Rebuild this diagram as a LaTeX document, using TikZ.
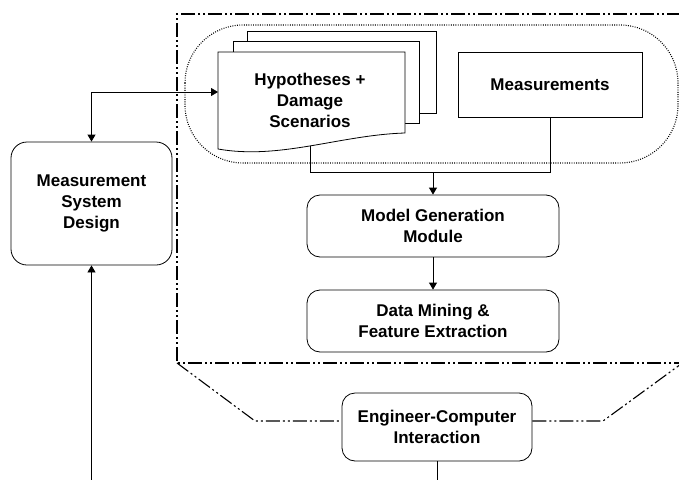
\documentclass[tikz,border=0pt]{standalone}
\usepackage{fontspec}
\setmainfont{Liberation Sans}
\usetikzlibrary{arrows.meta}
\tikzset{
  lbl/.style={font=\fontsize{17}{21}\selectfont\bfseries, align=center},
  rbox/.style={draw, line width=0.8pt, rounded corners=13pt, inner sep=0pt, lbl, fill=white},
  sbox/.style={draw, line width=0.8pt, inner sep=0pt, lbl, fill=white},
  conn/.style={line width=0.8pt},
  arr/.style={conn, -{Triangle[width=8pt,length=7pt]}},
  frame/.style={line width=1.3pt, dash pattern=on 14pt off 3pt on 2pt off 3pt on 2pt off 3pt},
  thinframe/.style={line width=1.1pt, dash pattern=on 14pt off 3pt on 2pt off 3pt on 2pt off 3pt},
  dotline/.style={line width=1.1pt, dash pattern=on 0.9pt off 1.4pt},
}
\begin{document}
\begin{tikzpicture}[x=1pt,y=-1pt]
\useasboundingbox (0,0) rectangle (679,479);
% outer dash-dot frame
\draw[frame] (681,14) -- (177,14) -- (177,363) -- (681,363);
% dotted stadium
\draw[dotline, rounded corners=58pt] (185,25) rectangle (678,163);
% document stack
\draw[sbox] (247,31) rectangle (436,113);
\draw[sbox] (233,41) rectangle (419,123);
\draw[sbox] (218,52) -- (405,52) -- (405,133)
   .. controls (340,135) and (280,160) .. (218,149) coordinate[pos=0.5] (hb) -- cycle;
\node[lbl] (hyp) at (310,100) {Hypotheses +\\Damage\\Scenarios};
\coordinate (docL) at (218,92);
% measurements
\node[sbox, minimum width=184pt, minimum height=65pt] (meas) at (550,84.5) {Measurements};
% MSD
\node[rbox, rounded corners=16pt, minimum width=161pt, minimum height=123pt] (msd) at (91.5,203.5) {Measurement\\System\\Design};
% MGM, DM
\node[rbox, minimum width=252pt, minimum height=62pt] (mgm) at (433,226) {Model Generation\\Module};
\node[rbox, minimum width=252pt, minimum height=62pt] (dm) at (433,321) {Data Mining \&\\Feature Extraction};
% ECI
\node[rbox, minimum width=190pt, minimum height=68pt] (eci) at (437,427) {Engineer-Computer\\Interaction};
% trapezoid
\coordinate (tl) at (177,363);
\coordinate (tr) at (681,364);
\draw[thinframe] (tl) -- (255,421) -- (eci.west |- 0,421);
\draw[thinframe] (eci.east |- 0,421) -- (603,421) -- (tr);
% connectors
\coordinate (j) at (433,172);
\draw[conn] (hb) -- (hb |- j) -| (meas.south);
\draw[arr] (j) -- (mgm.north);
\draw[arr] (mgm.south) -- (dm.north);
\coordinate (ebot) at (437,481);
\draw[conn] (eci.south) -- (ebot);
\coordinate (mbot) at (91.5,481);
\draw[arr] (mbot) -- (msd.south);
\draw[conn, {Triangle[width=8pt,length=7pt]}-{Triangle[width=8pt,length=7pt]}] (msd.north) |- (docL);
\end{tikzpicture}
\end{document}
